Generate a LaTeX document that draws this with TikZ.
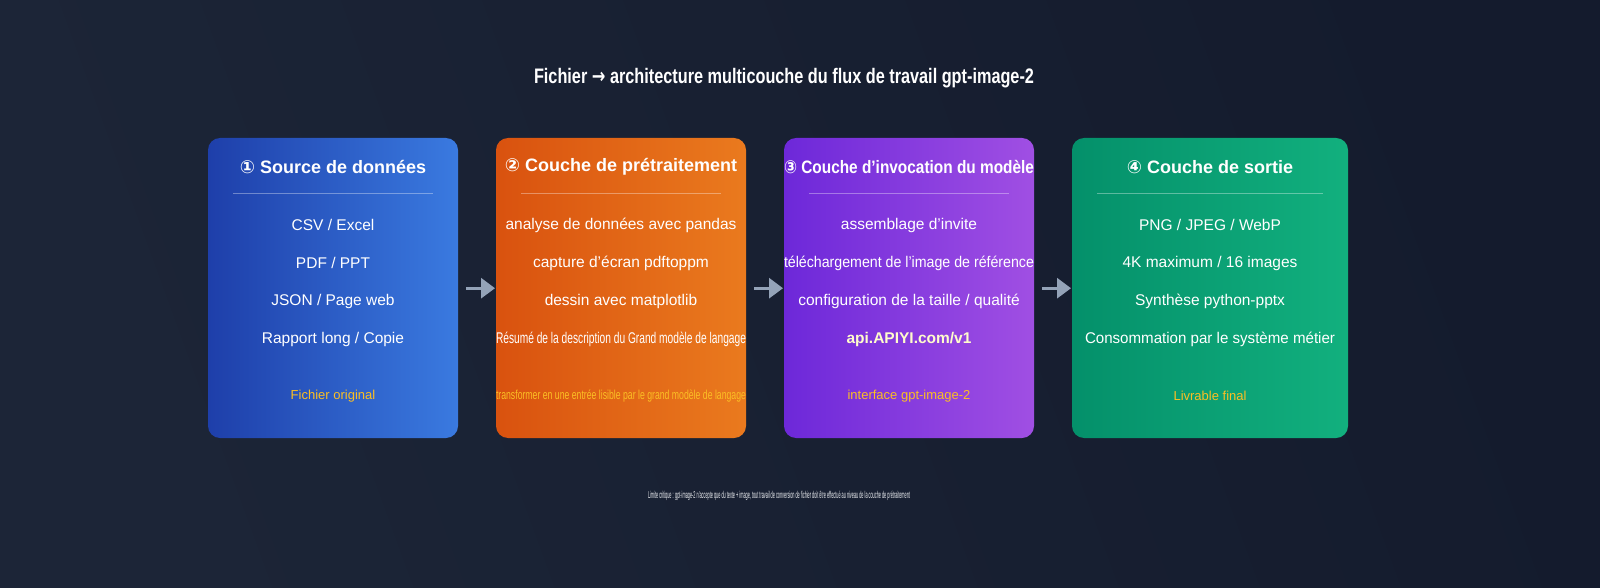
\documentclass[tikz,border=0pt]{standalone}
\usepackage{fontspec}
\setmainfont{Liberation Sans}
\usepackage{graphicx}
\usetikzlibrary{arrows.meta}
\newcommand\ap{\symbol{39}}
\definecolor{bgA}{HTML}{141B2D}\definecolor{bgB}{HTML}{1C2537}
\definecolor{yel}{HTML}{FBBF24}\definecolor{arr}{HTML}{94A3B8}
\definecolor{bA}{HTML}{1E3FAA}\definecolor{bB}{HTML}{3A7AE0}
\definecolor{oA}{HTML}{D9520F}\definecolor{oB}{HTML}{EA7A1E}
\definecolor{pA}{HTML}{6D28D9}\definecolor{pB}{HTML}{A04FE3}
\definecolor{gA}{HTML}{04906A}\definecolor{gB}{HTML}{12B07E}
\newcommand\fitw[2]{\sbox0{#2}\ifdim\wd0>#1\resizebox{#1}{\height}{#2}\else#2\fi}
\tikzset{
 card/.style={rounded corners=12pt, shading angle=-60},
 ttl/.style={text=white, font=\fontsize{18}{20}\selectfont\bfseries},
 itm/.style={text=white, font=\fontsize{15.5}{18}\selectfont},
 lbl/.style={text=yel, font=\fontsize{13}{15}\selectfont},
 arrw/.style={draw=arr, line width=3pt, -{Triangle[length=14pt,width=20pt]}},
}
\begin{document}
\begin{tikzpicture}[x=1pt,y=-1pt]
\useasboundingbox (0,0) rectangle (1600,588);
\shade[left color=bgA, right color=bgB, shading angle=-70] (0,0) rectangle (1600,588);
\node[text=white, font=\fontsize{21}{24}\selectfont\bfseries] (title) at (784,78) {\resizebox{500pt}{\height}{Fichier {\fontspec{DejaVu Sans}→} architecture multicouche du flux de travail gpt-image-2}};
\newcommand\card[5]{%
 \shade[card, left color=#2, right color=#3] (#1,138) rectangle (#4,438);
 \node[minimum width=#4pt-#1pt, minimum height=300pt, anchor=north west, inner sep=0] (#5) at (#1,138) {};
 \draw[white, opacity=0.35, line width=0.8pt] ({#1+25},193) -- ({#4-25},193);
}
\card{208}{bA}{bB}{458}{c1}
\card{496}{oA}{oB}{746}{c2}
\card{784}{pA}{pB}{1034}{c3}
\card{1072}{gA}{gB}{1348}{c4}
\newcommand\txt[5]{\node[#1] (#2) at (#3,#4) {\fitw{250pt}{#5}};}
\txt{ttl}{t1}{333}{167}{{\fontspec{DejaVu Sans}\bfseries ①} Source de données}
\txt{itm}{a1}{333}{225}{CSV / Excel}
\txt{itm}{a2}{333}{263}{PDF / PPT}
\txt{itm}{a3}{333}{301}{JSON / Page web}
\txt{itm}{a4}{333}{339}{Rapport long / Copie}
\txt{lbl}{a5}{333}{396}{Fichier original}
\txt{ttl}{t2}{621}{167}{{\fontspec{DejaVu Sans}\bfseries ②} Couche de prétraitement}
\txt{itm}{b1}{621}{225}{analyse de données avec pandas}
\txt{itm}{b2}{621}{263}{capture d\ap écran pdftoppm}
\txt{itm}{b3}{621}{301}{dessin avec matplotlib}
\txt{itm}{b4}{621}{339}{\resizebox{250pt}{\height}{Résumé de la description du Grand modèle de langage}}
\txt{lbl}{b5}{621}{396}{\resizebox{250pt}{\height}{transformer en une entrée lisible par le grand modèle de langage}}
\txt{ttl}{t3}{909}{167}{\resizebox{250pt}{\height}{{\fontspec{DejaVu Sans}\bfseries ③} Couche d\ap invocation du modèle}}
\txt{itm}{d1}{909}{225}{assemblage d\ap invite}
\txt{itm}{d2}{909}{263}{téléchargement de l\ap image de référence}
\txt{itm}{d3}{909}{301}{configuration de la taille / qualité}
\node[itm, text=yellow!20, font=\fontsize{15.5}{18}\selectfont\bfseries] (d4) at (909,339) {api.APIYI.com/v1};
\txt{lbl}{d5}{909}{396}{interface gpt-image-2}
\txt{ttl}{t4}{1210}{167}{{\fontspec{DejaVu Sans}\bfseries ④} Couche de sortie}
\txt{itm}{e1}{1210}{225}{PNG / JPEG / WebP}
\txt{itm}{e2}{1210}{263}{4K maximum / 16 images}
\txt{itm}{e3}{1210}{301}{Synthèse python-pptx}
\txt{itm}{e4}{1210}{339}{Consommation par le système métier}
\txt{lbl}{e5}{1210}{396}{Livrable final}
\draw[arrw] ([xshift=8pt]c1.east) -- ([xshift=-1pt]c2.west);
\draw[arrw] ([xshift=8pt]c2.east) -- ([xshift=-1pt]c3.west);
\draw[arrw] ([xshift=8pt]c3.east) -- ([xshift=-1pt]c4.west);
\node[text=white!85!arr, font=\fontsize{10}{12}\selectfont] (foot) at (779,496) {\resizebox{262pt}{\height}{Limite critique : gpt-image-2 n\ap accepte que du texte + image, tout travail de conversion de fichier doit être effectué au niveau de la couche de prétraitement}};
\end{tikzpicture}
\end{document}
